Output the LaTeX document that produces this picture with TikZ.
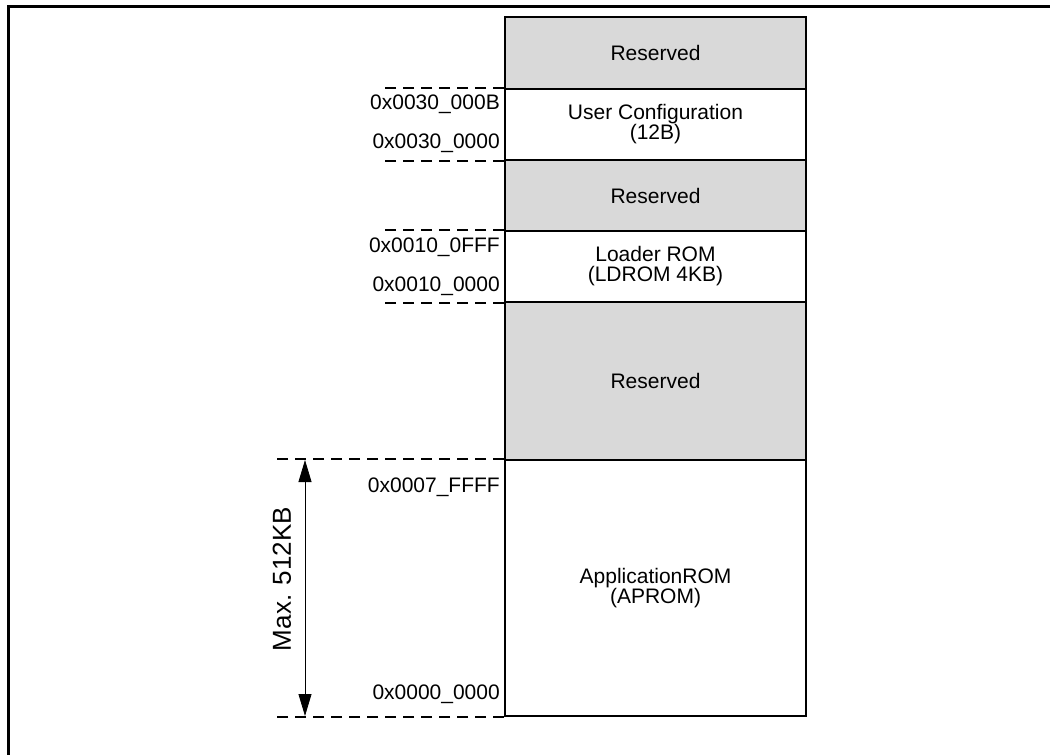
\documentclass[tikz,border=0pt]{standalone}
\usepackage{fontspec}
\setmainfont{Liberation Sans}
\usetikzlibrary{arrows.meta}

\tikzset{
	blk/.style={draw,line width=1.8pt,minimum width=301pt,align=center,inner sep=0pt,font=\fontsize{21}{20}\selectfont},
	resv/.style={blk,fill=gray!30},
	addr/.style={anchor=east,inner sep=0pt,font=\fontsize{21}{20}\selectfont},
	guide/.style={line width=1.5pt,dash pattern=on 11pt off 7pt}
}

\begin{document}
\begin{tikzpicture}[x=1pt,y=-1pt]
					\useasboundingbox (0,0) rectangle (1050,755);
					\draw[line width=2.5pt] (8.5,755)--(8.5,6.5)--(1050,6.5);
					% memory blocks, top to bottom
					\node[resv,minimum height=72pt] (rsvtop) at (655.5,53) {Reserved};
					\node[blk,minimum height=71pt] (ucfg) at (655.5,124.5) {User Configuration\\(12B)};
					\node[resv,minimum height=71pt] (rsvmid) at (655.5,195.5) {Reserved};
					\node[blk,minimum height=71pt] (ldrom) at (655.5,266.5) {Loader ROM\\(LDROM 4KB)};
					\node[resv,minimum height=158pt] (rsvlow) at (655.5,381) {Reserved};
					\node[blk,minimum height=256pt] (aprom) at (655.5,588) {ApplicationROM\\(APROM)};
					% dashed guides
					\draw[guide] (ucfg.north west)--++(-120,0);
					\draw[guide] (ucfg.south west)--++(-120,0);
					\draw[guide] (ldrom.north west)--++(-120,0);
					\draw[guide] (ldrom.south west)--++(-120,0);
					\draw[guide] (aprom.north west)--++(-228,0);
					\draw[guide] (aprom.south west)--++(-228,0);
					% addresses
					\node[addr] (a30b) at (500,104) {0x0030\_000B};
					\node[addr] (a300) at (500,143) {0x0030\_0000};
					\node[addr] (a10f) at (500,247) {0x0010\_0FFF};
					\node[addr] (a100) at (500,286) {0x0010\_0000};
					\node[addr] (a07f) at (500,487) {0x0007\_FFFF};
					\node[addr] (a000) at (500,694) {0x0000\_0000};
					% size arrow
					\coordinate (maxtop) at (305,460);
					\coordinate (maxbot) at (305,716);
					\draw[line width=0.8pt,{Triangle[length=22pt,width=13pt]}-{Triangle[length=22pt,width=13pt]}] (maxtop)--(maxbot);
					\node[rotate=90,font=\fontsize{26}{26}\selectfont] (maxlbl) at (282,579) {Max. 512KB};
				\end{tikzpicture}
\end{document}
